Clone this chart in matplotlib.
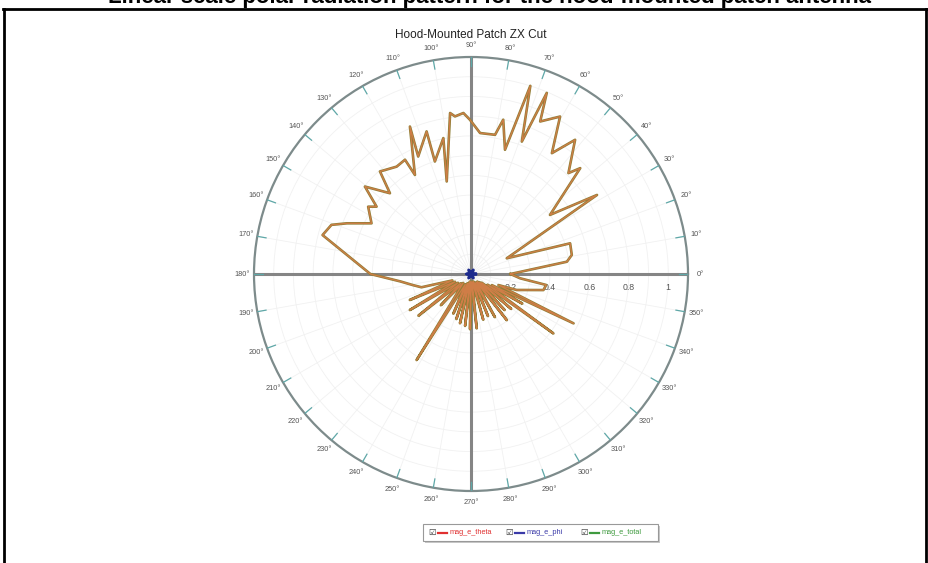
import numpy as np
import matplotlib
matplotlib.use("Agg")
import matplotlib.pyplot as plt
from matplotlib.lines import Line2D
from matplotlib.patches import Rectangle

# ---------------- data ----------------
theta_deg = [0, 7.3, 10.7, 17.2, 23.7, 32.1, 36.8, 44.1, 46.0, 52.2, 56.2, 60.5,
             65.6, 67.3, 69.0, 72.5, 74.7, 78.2, 80.2, 86.3, 90.4, 92.7, 95.8,
             97.4, 104.7, 101.5, 107.8, 107.3, 114.2, 112.5, 119.5, 120.0, 124.7,
             131.6, 135.1, 140.5, 144.5, 146.8, 153.0, 157.8, 160.6, 165.3, 180.0,
             186, 190.8, 195, 199, 203, 206, 210.5, 214, 218.4, 222, 226, 229,
             237.7, 241, 246, 249, 252, 255, 257.4, 260, 263.5, 266, 269, 272,
             276, 279, 285, 288, 292, 295, 299, 303, 307.8, 310, 313, 316, 319,
             321, 324.2, 327, 330, 332, 334.3, 338, 340.7, 347.5, 351.7, 355, 360]
theta_mag = [0.20, 0.49, 0.52, 0.526, 0.198, 0.754, 0.50, 0.771, 0.711, 0.861, 0.737, 0.917,
             0.849, 0.995, 0.719, 1.0, 0.653, 0.799, 0.716, 0.716, 0.782, 0.817, 0.803,
             0.823, 0.485, 0.703, 0.599, 0.757, 0.653, 0.809, 0.577, 0.669, 0.662,
             0.695, 0.58, 0.697, 0.588, 0.623, 0.566, 0.68, 0.75, 0.778, 0.51,
             0.36, 0.30, 0.26, 0.10, 0.337, 0.09, 0.36, 0.08, 0.34, 0.07, 0.22, 0.06,
             0.516, 0.06, 0.22, 0.05, 0.24, 0.05, 0.256, 0.04, 0.265, 0.04, 0.28, 0.04,
             0.277, 0.04, 0.24, 0.04, 0.23, 0.05, 0.25, 0.05, 0.296, 0.05, 0.25, 0.06, 0.27,
             0.07, 0.515, 0.10, 0.30, 0.12, 0.577, 0.15, 0.245, 0.376, 0.385, 0.25, 0.20]
total_deg = list(theta_deg)
total_mag = list(theta_mag)
phi_deg = [0, 30, 60, 90, 120, 150, 180, 210, 240, 270, 300, 330, 360]
phi_mag = [0.024, 0.008, 0.024, 0.008, 0.024, 0.008, 0.024, 0.008, 0.024, 0.008, 0.024, 0.008, 0.024]

angle_labels = [f"{a}°" for a in range(0, 360, 10)]
radial_ticks = [0.2, 0.4, 0.6, 0.8, 1.0]
radial_labels = ["0.2", "0.4", "0.6", "0.8", "1"]
title = "Hood-Mounted Patch ZX Cut"
top_text = "Linear scale polar radiation pattern for the hood-mounted patch antenna"
legend_names = ["mag_e_theta", "mag_e_phi", "mag_e_total"]
legend_colors = ["#e03030", "#3a3aa8", "#3f9a3f"]

# ---------------- figure ----------------
plt.rcParams["font.family"] = ["Liberation Sans", "DejaVu Sans"]
W, H = 929, 563
fig = plt.figure(figsize=(W / 100, H / 100), dpi=100)

def fx(x):
    return x / W

def fy(y):
    return 1 - y / H

cx, cy, R = 471, 274, 217
ax = fig.add_axes([fx(cx - R), fy(cy + R), 2 * R / W, 2 * R / H], projection="polar")
ax.set_ylim(0, 1.1)
ax.set_xticks(np.deg2rad(np.arange(0, 360, 10)))
ax.set_xticklabels([])
ax.set_yticks(np.arange(0.1, 1.1, 0.1))
ax.set_yticklabels([])
ax.tick_params(length=0)
ax.grid(True, color="#f1f1f1", lw=0.6)
ax.spines["polar"].set_color("#7d8b8b")
ax.spines["polar"].set_linewidth(1.6)

# teal ticks on the outer ring and angle labels
for a in range(0, 360, 10):
    t = np.deg2rad(a)
    ax.plot([t, t], [1.055, 1.1], color="#5fa8a8", lw=0.9, zorder=3)
    ax.text(t, 1.16, angle_labels[a // 10], ha="center", va="center",
            fontsize=5.3, color="#555555")

# cross-hair
for a in (0, 90, 180, 270):
    t = np.deg2rad(a)
    ax.plot([t, t], [0, 1.1], color="#858585", lw=2.2, zorder=2, solid_capstyle="butt")

for r, lbl in zip(radial_ticks, radial_labels):
    ax.annotate(lbl, xy=(0, r), xytext=(0, -9.5), textcoords="offset points",
                ha="center", va="center", fontsize=6.3, color="#555555")

# data traces
ax.plot(np.deg2rad(total_deg), total_mag, color="#8f7f36", lw=1.9, zorder=4)
ax.plot(np.deg2rad(theta_deg), theta_mag, color="#cf7d47", lw=0.9, zorder=5)
ax.plot(np.deg2rad(phi_deg), phi_mag, color="#1c2a8c", lw=2.0, zorder=6)

# titles
fig.text(fx(471), fy(35), title, ha="center", va="center", fontsize=8.5, color="#222222")
fig.text(fx(108), fy(3.5), top_text, ha="left", va="baseline", fontsize=16,
         fontweight="bold", color="black")

# frame
for xs, ys in (([3, 929], [9, 9]), ([4, 4], [9, 563]), ([926, 926], [9, 563])):
    fig.add_artist(Line2D([fx(v) for v in xs], [fy(v) for v in ys],
                          transform=fig.transFigure, color="black", lw=2.0))

# legend
lx0, ly0, lx1, ly1 = 423, 524, 658, 541
fig.add_artist(Rectangle((fx(lx0 + 2), fy(ly1 + 2)), fx(lx1 - lx0), (ly1 - ly0) / H,
                         transform=fig.transFigure, facecolor="#c8c8c8", edgecolor="none"))
fig.add_artist(Rectangle((fx(lx0), fy(ly1)), fx(lx1 - lx0), (ly1 - ly0) / H,
                         transform=fig.transFigure, facecolor="white", edgecolor="#999999", lw=0.8))
item_x = [428, 505, 580]
ymid = 532.5
for x0, name, col in zip(item_x, legend_names, legend_colors):
    fig.text(fx(x0), fy(ymid), "☑", ha="left", va="center", fontsize=6,
             family="DejaVu Sans", color="#333333")
    fig.add_artist(Line2D([fx(x0 + 10), fx(x0 + 19)], [fy(ymid), fy(ymid)],
                          transform=fig.transFigure, color=col, lw=1.6))
    fig.text(fx(x0 + 22), fy(ymid), name, ha="left", va="center", fontsize=5.3, color=col)

fig.savefig("out.png", dpi=100, facecolor="white")
